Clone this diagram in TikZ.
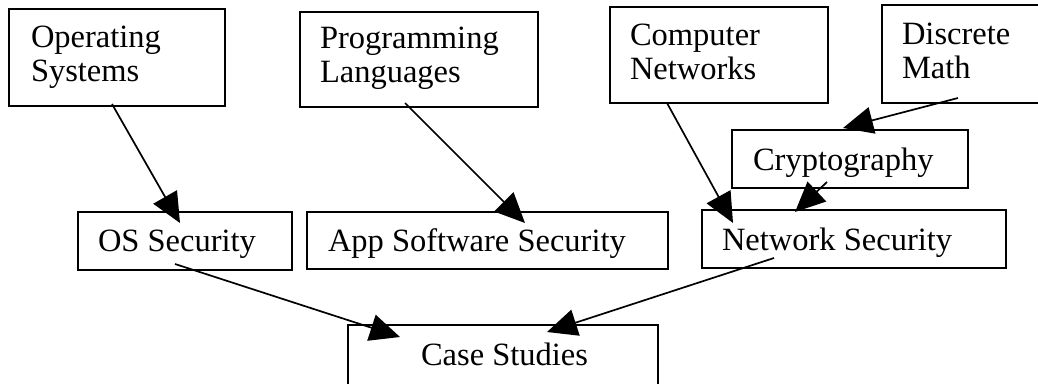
\documentclass[tikz,border=0pt]{standalone}
\usepackage{fontspec}
\setmainfont{Liberation Serif}
\usetikzlibrary{arrows.meta}
\begin{document}
\begin{tikzpicture}[x=1pt,y=-1pt,
  box/.style={draw,line width=2.4pt,inner sep=0pt,outer sep=0pt,anchor=north west},
  txt/.style={anchor=base west,inner sep=0pt,outer sep=0pt,font=\fontsize{32.5}{34}\selectfont},
  arr/.style={line width=1.7pt,-{Triangle[length=30pt,width=27pt]}}]
\useasboundingbox (0,0) rectangle (1038,383);
\clip (0,0) rectangle (1038,383);
% boxes
\node[box,minimum width=216pt,minimum height=97pt] (os1) at (9,9) {};
\node[box,minimum width=238pt,minimum height=95pt] (pl) at (300,12) {};
\node[box,minimum width=218pt,minimum height=96pt] (cn) at (610,7) {};
\node[box,minimum width=163pt,minimum height=98pt] (dm) at (882,5) {};
\node[box,minimum width=236pt,minimum height=58pt] (cr) at (732,130) {};
\node[box,minimum width=214pt,minimum height=58pt] (oss) at (78,212) {};
\node[box,minimum width=361pt,minimum height=57pt] (app) at (307,212) {};
\node[box,minimum width=304pt,minimum height=58pt] (ns) at (702,210) {};
\node[box,minimum width=310pt,minimum height=80pt] (cs) at (348,325) {};
% texts
\node[txt] (t-os1) at (31,47) {\vtop{\hbox{Operating}\hbox{Systems}}};
\node[txt] (t-pl) at (320,48) {\vtop{\hbox{Programming}\hbox{Languages}}};
\node[txt] (t-cn) at (630,45) {\vtop{\hbox{Computer}\hbox{Networks}}};
\node[txt] (t-dm) at (902,44) {\vtop{\hbox{Discrete}\hbox{Math}}};
\node[txt] (t-cr) at (753,170) {Cryptography};
\node[txt] (t-oss) at (98,251) {OS Security};
\node[txt] (t-app) at (328,251) {App Software Security};
\node[txt] (t-ns) at (722,250) {Network Security};
\node[txt] (t-cs) at (421,365) {Case Studies};
% connectors
\draw[arr] ([shift={(103,95)}]os1.north west) -- ([shift={(102,11)}]oss.north west);
\draw[arr] ([shift={(105,91)}]pl.north west) -- ([shift={(218,11)}]app.north west);
\draw[arr] ([shift={(57,96)}]cn.north west) -- ([shift={(31,13)}]ns.north west);
\draw[arr] ([shift={(76,93)}]dm.north west) -- ([shift={(111,-2)}]cr.north west);
\draw[arr] ([shift={(95,52)}]cr.north west) -- ([shift={(93,2)}]ns.north west);
\draw[arr] ([shift={(97,52)}]oss.north west) -- ([shift={(52,12)}]cs.north west);
\draw[arr] ([shift={(72,48)}]ns.north west) -- ([shift={(199,7)}]cs.north west);
\end{tikzpicture}
\end{document}
